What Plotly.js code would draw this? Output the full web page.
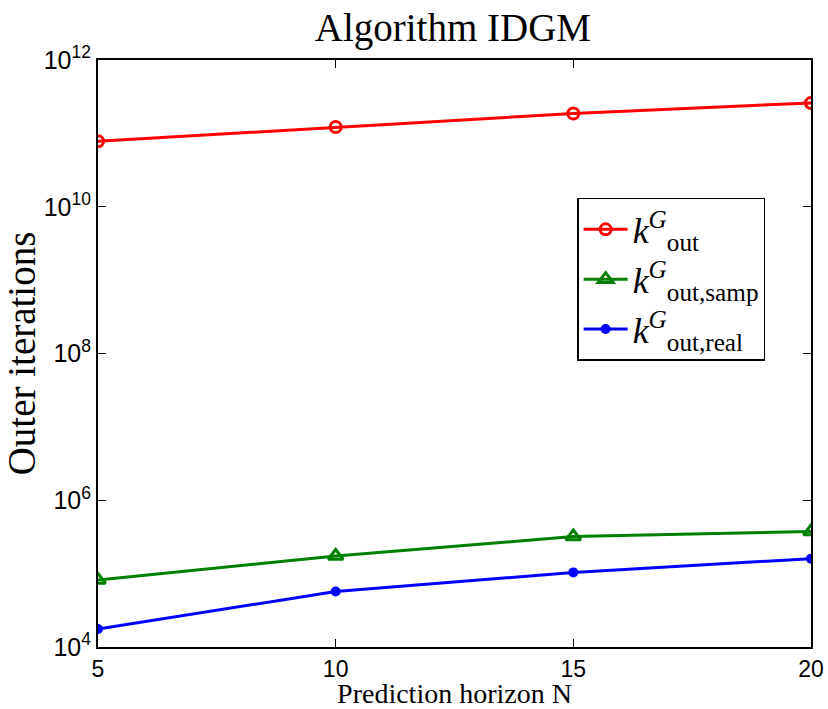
<!DOCTYPE html>
<html>
<head>
<meta charset="utf-8">
<script src="https://cdn.plot.ly/plotly-3.0.1.min.js"></script>
<style>
  html, body { margin: 0; padding: 0; background: #fff; }
  #chart { width: 828px; height: 709px; }
</style>
</head>
<body>
<div id="chart"></div>
<script>
// Prediction horizon values
const horizon = [5, 10, 15, 20];

// Outer iteration counts for Algorithm IDGM
const kOut = [7.8e10, 1.22e11, 1.87e11, 2.6e11];
const kOutSamp = [8.2e4, 1.74e5, 3.2e5, 3.75e5];
const kOutReal = [1.76e4, 5.7e4, 1.04e5, 1.6e5];

// Axis ticks
const xTicks = [5, 10, 15, 20];
const yTickVals = [1e4, 1e6, 1e8, 1e10, 1e12];
const yTickText = ['10<sup>4</sup>', '10<sup>6</sup>', '10<sup>8</sup>', '10<sup>10</sup>', '10<sup>12</sup>'];

const serif = '"Liberation Serif", "DejaVu Serif", serif';
const sans = '"Liberation Sans", Arial, sans-serif';

const traces = [
  {
    x: horizon, y: kOut, mode: 'lines+markers',
    name: '<i>k</i><sup><i>G</i></sup><sub>out</sub>',
    line: { color: '#ff0000', width: 3 },
    marker: { symbol: 'circle-open', size: 11, color: '#ff0000', line: { width: 3, color: '#ff0000' } }
  },
  {
    x: horizon, y: kOutSamp, mode: 'lines+markers',
    name: '<i>k</i><sup><i>G</i></sup><sub>out,samp</sub>',
    line: { color: '#008000', width: 3 },
    marker: { symbol: 'triangle-up-open', size: 13, color: '#008000', line: { width: 3, color: '#008000' } }
  },
  {
    x: horizon, y: kOutReal, mode: 'lines+markers',
    name: '<i>k</i><sup><i>G</i></sup><sub>out,real</sub>',
    line: { color: '#0000ff', width: 3 },
    marker: { symbol: 'circle', size: 10, color: '#0000ff' }
  }
];

const layout = {
  width: 828, height: 709,
  margin: { l: 98, r: 17, t: 60, b: 62 },
  paper_bgcolor: '#fff', plot_bgcolor: '#fff',
  showlegend: true,
  title: {
    text: 'Algorithm IDGM',
    font: { family: serif, size: 39, color: '#000' },
    x: 0.547, xanchor: 'center', y: 0.962, yanchor: 'middle'
  },
  xaxis: {
    range: [5, 20], tickvals: xTicks, ticktext: xTicks.map(String),
    ticks: 'inside', ticklen: 8, tickwidth: 1, tickcolor: '#000',
    showline: true, linecolor: '#000', linewidth: 2, mirror: 'ticks',
    showgrid: false, zeroline: false,
    tickfont: { family: sans, size: 23, color: '#000' },
    title: { text: 'Prediction horizon N', font: { family: serif, size: 28, color: '#000' }, standoff: 7 }
  },
  yaxis: {
    type: 'log', range: [4, 12], tickvals: yTickVals, ticktext: yTickText,
    ticks: 'inside', ticklen: 8, tickwidth: 1, tickcolor: '#000',
    showline: true, linecolor: '#000', linewidth: 2, mirror: 'ticks',
    showgrid: false, zeroline: false,
    tickfont: { family: sans, size: 25, color: '#000' },
    title: { text: 'Outer iterations', font: { family: serif, size: 39, color: '#000' }, standoff: 2 }
  },
  legend: {
    x: 0.672, y: 0.765, xanchor: 'left', yanchor: 'top',
    bgcolor: '#fff', bordercolor: '#000', borderwidth: 1.5,
    font: { family: serif, size: 36, color: '#000' },
    tracegroupgap: 0, itemwidth: 44
  }
};

Plotly.newPlot('chart', traces, layout, { displayModeBar: false, staticPlot: true });
</script>
</body>
</html>
